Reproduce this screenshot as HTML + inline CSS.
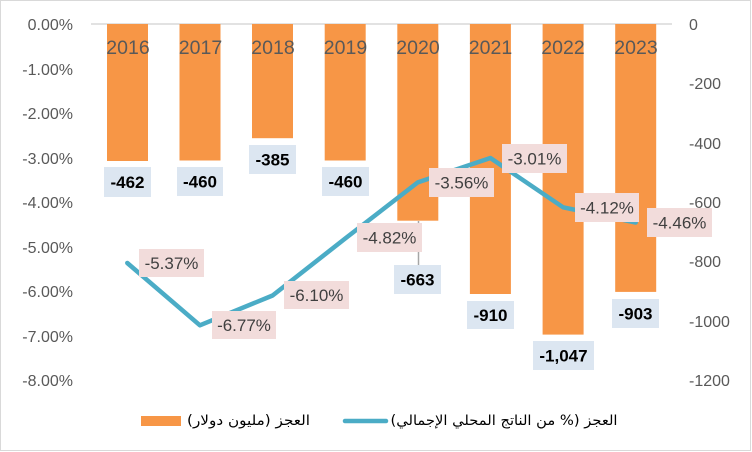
<!DOCTYPE html>
<html><head><meta charset="utf-8"><style>
html,body{margin:0;padding:0;background:#fff;}
svg{display:block;}
</style></head><body>
<svg width="752" height="452" viewBox="0 0 752 452" xmlns="http://www.w3.org/2000/svg">
<rect x="0" y="0" width="752" height="452" fill="#fff"/>
<rect x="0.5" y="0.5" width="750" height="450" fill="none" stroke="#d9d9d9" stroke-width="1"/>
<!-- gridline -->
<line x1="91" y1="24" x2="672" y2="24" stroke="#d9d9d9" stroke-width="1.5"/>
<!-- left axis -->
<g font-family="Liberation Sans, Arial, sans-serif" font-size="16" fill="#595959" text-anchor="end">
<text x="73" y="30">0.00%</text>
<text x="73" y="75">-1.00%</text>
<text x="73" y="119">-2.00%</text>
<text x="73" y="164">-3.00%</text>
<text x="73" y="208">-4.00%</text>
<text x="73" y="253">-5.00%</text>
<text x="73" y="297">-6.00%</text>
<text x="73" y="342">-7.00%</text>
<text x="73" y="386">-8.00%</text>
</g>
<!-- right axis -->
<g font-family="Liberation Sans, Arial, sans-serif" font-size="16" fill="#595959" text-anchor="start">
<text x="689" y="30">0</text>
<text x="689" y="89">-200</text>
<text x="689" y="149">-400</text>
<text x="689" y="208">-600</text>
<text x="689" y="267">-800</text>
<text x="689" y="327">-1000</text>
<text x="689" y="386">-1200</text>
</g>
<!-- bars -->
<g fill="#f79646">
<rect x="107" y="24" width="41" height="137"/>
<rect x="179.5" y="24" width="41" height="136.5"/>
<rect x="252" y="24" width="41" height="114.2"/>
<rect x="324.7" y="24" width="41" height="136.5"/>
<rect x="397.3" y="24" width="41" height="196.7"/>
<rect x="469.9" y="24" width="41" height="270"/>
<rect x="542.6" y="24" width="41" height="310.6"/>
<rect x="615.2" y="24" width="41" height="267.9"/>
</g>
<!-- year labels -->
<g font-family="Liberation Sans, Arial, sans-serif" font-size="19.5" fill="#595959" text-anchor="middle">
<text x="128" y="54">2016</text>
<text x="200.5" y="54">2017</text>
<text x="273" y="54">2018</text>
<text x="345.5" y="54">2019</text>
<text x="418" y="54">2020</text>
<text x="490.5" y="54">2021</text>
<text x="563" y="54">2022</text>
<text x="636" y="54">2023</text>
</g>
<!-- leader line 2020 -->
<line x1="418.5" y1="221" x2="418.5" y2="265" stroke="#a6a6a6" stroke-width="1.5"/>
<!-- line series -->
<polyline points="127.3,263 199.9,325.3 272.6,295.5 345.2,238.5 417.8,182.4 490.4,158 563.1,207.3 635.7,222.5" fill="none" stroke="#4bacc6" stroke-width="4.5" stroke-linejoin="round" stroke-linecap="round"/>
<!-- bar value labels -->
<g fill="#dce6f1">
<rect x="104" y="167" width="47" height="30"/>
<rect x="177" y="167" width="46" height="29"/>
<rect x="249" y="145" width="47" height="29"/>
<rect x="322" y="167" width="47" height="29"/>
<rect x="394" y="265" width="47" height="29"/>
<rect x="467" y="301" width="47" height="28"/>
<rect x="533" y="341" width="61" height="29"/>
<rect x="612" y="299" width="47" height="29"/>
</g>
<g font-family="Liberation Sans, Arial, sans-serif" font-size="17" font-weight="bold" fill="#000" text-anchor="middle">
<text x="127.5" y="188">-462</text>
<text x="200" y="187.5">-460</text>
<text x="272.5" y="165.5">-385</text>
<text x="345.5" y="187.5">-460</text>
<text x="417.5" y="285.5">-663</text>
<text x="490.5" y="321">-910</text>
<text x="563.5" y="361.5">-1,047</text>
<text x="635.5" y="319.5">-903</text>
</g>
<!-- percent labels -->
<g fill="#f2dcdb">
<rect x="139" y="249" width="65" height="28"/>
<rect x="212" y="311" width="64" height="28"/>
<rect x="284" y="281" width="65" height="28"/>
<rect x="357" y="223" width="65" height="29"/>
<rect x="429" y="168" width="65" height="29"/>
<rect x="502" y="144" width="65" height="29"/>
<rect x="575" y="193" width="64" height="29"/>
<rect x="647" y="208" width="65" height="29"/>
</g>
<g font-family="Liberation Sans, Arial, sans-serif" font-size="17" fill="#404040" text-anchor="middle">
<text x="171.5" y="269">-5.37%</text>
<text x="244" y="331">-6.77%</text>
<text x="316.5" y="301">-6.10%</text>
<text x="389.5" y="243.5">-4.82%</text>
<text x="461.5" y="188.5">-3.56%</text>
<text x="534.5" y="164.5">-3.01%</text>
<text x="607" y="213.5">-4.12%</text>
<text x="679.5" y="228.5">-4.46%</text>
</g>
<!-- legend -->
<rect x="141" y="416" width="40" height="10" fill="#f79646"/>
<line x1="345" y1="421" x2="386" y2="421" stroke="#4bacc6" stroke-width="4.5" stroke-linecap="round"/>
<g font-family="DejaVu Sans, Liberation Sans, sans-serif" font-size="14" fill="#000" text-anchor="middle">
<text x="248.5" y="425" direction="rtl" textLength="123" lengthAdjust="spacingAndGlyphs">العجز (مليون دولار)</text>
<text x="504" y="425" direction="rtl" textLength="227" lengthAdjust="spacingAndGlyphs">العجز (% من الناتج المحلي الإجمالي)</text>
</g>
</svg>
</body></html>
